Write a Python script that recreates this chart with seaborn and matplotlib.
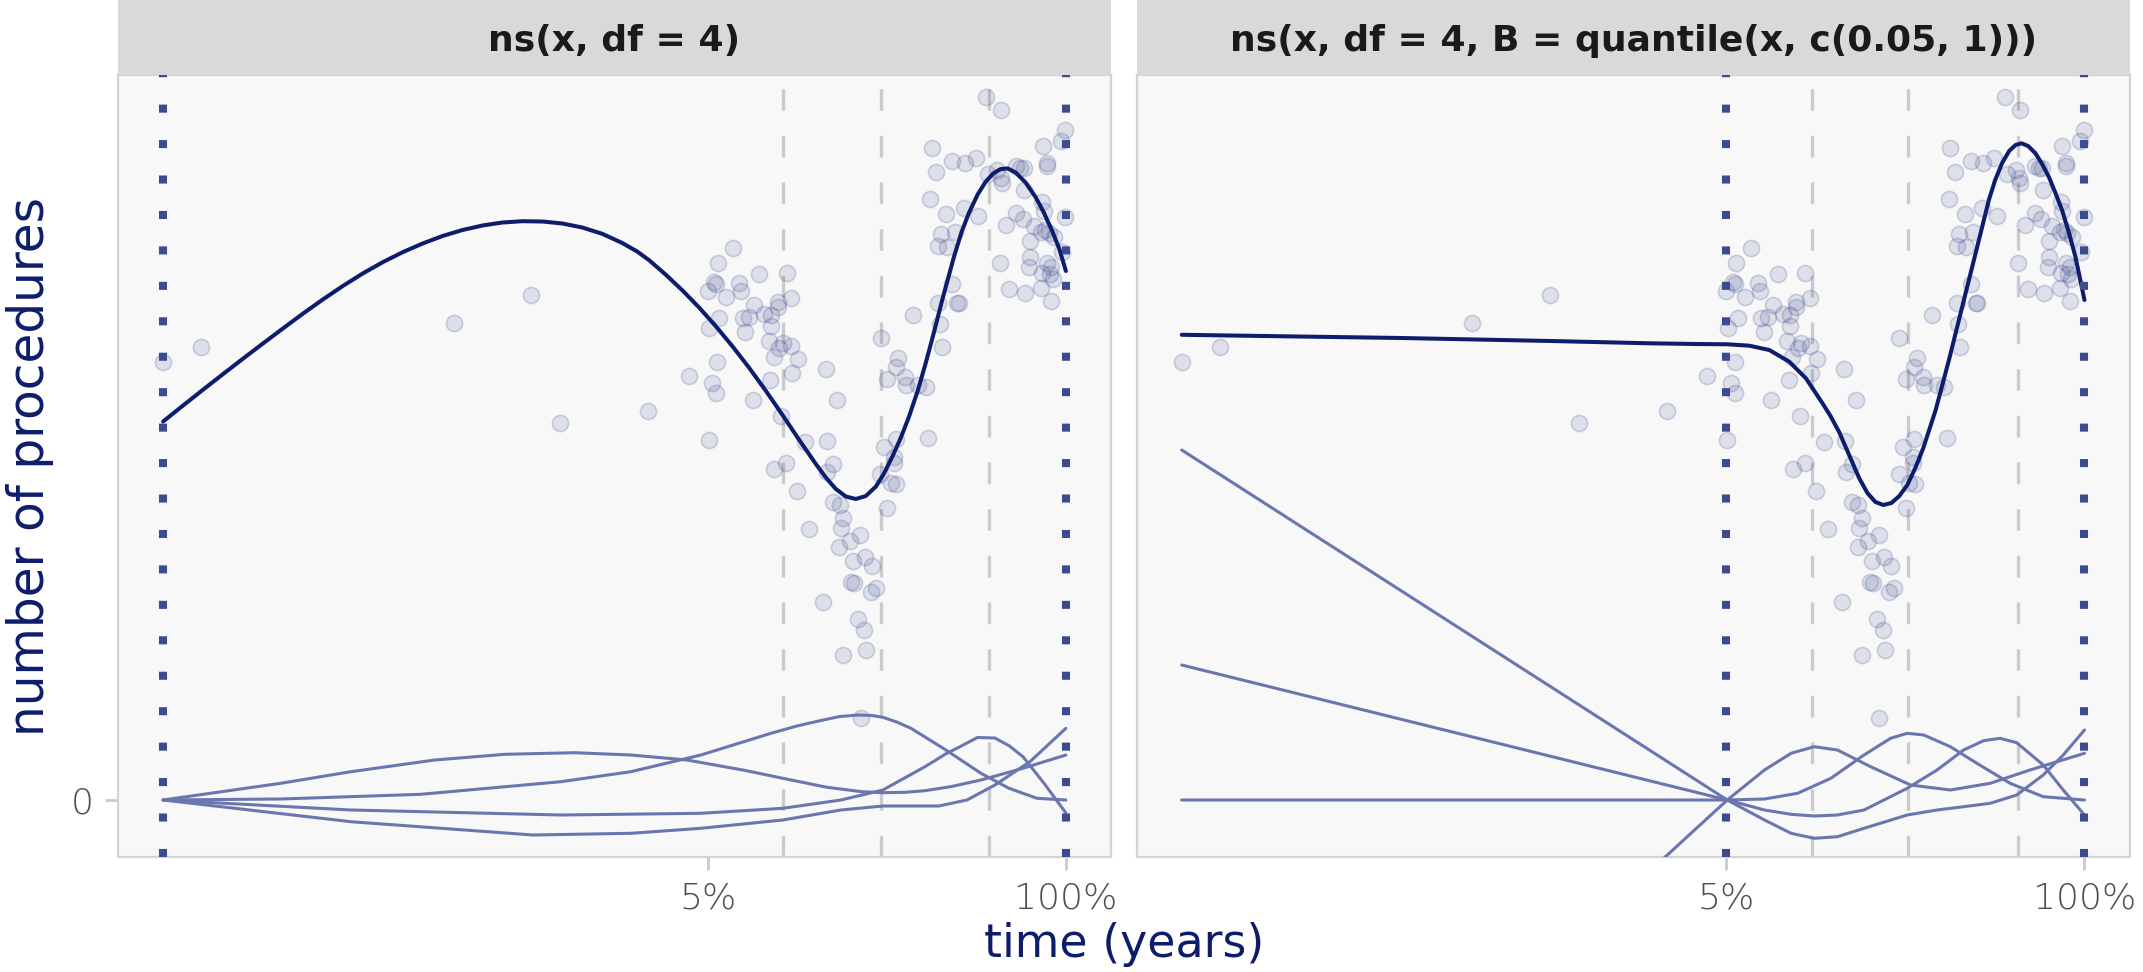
import matplotlib
matplotlib.use("Agg")
import matplotlib.pyplot as plt
import seaborn as sns
import pandas as pd

# ---------------- data (time in years, procedures in model units) ----------------
time_years = [
    0.00, 0.38, 2.913, 3.688, 3.978, 4.859, 5.266,
    5.706, 5.556, 5.973, 6.246, 5.523, 5.456, 5.54, 5.773, 5.79, 5.64, 5.923, 6.156,
    6.29, 6.023, 5.573, 5.806, 5.873, 6.09, 6.156, 5.473, 5.833, 6.09, 6.066, 6.206,
    6.29, 6.173, 6.116, 6.366, 5.546, 5.50, 5.54, 6.08, 6.30, 6.64, 5.906, 6.756,
    6.19, 5.466, 6.433, 6.65, 6.123, 6.24, 6.713, 6.656,
    6.356, 6.713, 6.78, 6.813, 6.79, 6.473, 6.983, 6.88, 6.773, 7.033, 6.913, 7.106,
    6.893, 6.923, 7.09, 7.14, 6.613, 6.966, 7.023, 7.046, 6.816, 6.99,
    7.19, 7.513, 7.78, 7.80, 7.366, 7.34, 7.256, 7.43, 7.44, 7.566, 7.64, 7.666,
    7.223, 7.34, 7.323, 7.323, 7.183, 7.29, 7.346, 7.256,
    8.246, 8.396, 9.04, 9.00, 8.816, 7.70, 7.906, 8.033, 8.14, 7.746, 8.266, 8.356,
    8.39, 8.40, 8.55, 8.623, 8.59, 8.856, 8.856, 8.63, 7.683, 8.806, 8.823, 7.846,
    8.023, 8.166, 9.04, 8.55, 8.613, 8.446, 8.723, 8.80, 8.873, 8.923, 8.84, 7.79,
    7.933, 7.763, 7.856, 8.69, 9.006, 8.69, 8.68, 8.38, 8.856, 8.90, 8.806, 8.883,
    8.913, 7.906, 8.48, 8.64, 8.80, 8.90, 7.763, 7.973, 7.956,
]
procedures = [
    4.375, 4.525, 4.773, 5.052, 3.77, 3.892, 4.243,
    5.517, 5.373, 5.26, 5.273, 5.183, 5.093, 5.16, 5.173, 5.093, 5.033, 4.95, 4.983,
    5.023, 4.86, 4.817, 4.817, 4.833, 4.85, 4.927, 4.717, 4.683, 4.74, 4.593, 4.573,
    4.54, 4.517, 4.433, 4.407, 4.383, 4.167, 4.067, 4.20, 4.267, 4.31, 4.0, 4.0,
    3.84, 3.60, 3.583, 3.59, 3.307, 3.373, 3.36, 3.283,
    3.09, 2.983, 2.95, 2.817, 2.717, 2.71, 2.65, 2.593, 2.533, 2.433, 2.393, 2.34,
    2.183, 2.173, 2.083, 2.117, 1.977, 1.807, 1.70, 1.50, 1.45, 0.817,
    4.617, 4.85, 4.76, 4.533, 4.423, 4.333, 4.21, 4.233, 4.15, 4.15, 4.127, 3.617,
    3.533, 3.607, 3.433, 3.367, 3.257, 3.173, 3.157, 2.917,
    7.033, 6.90, 6.70, 6.593, 6.543, 6.517, 6.39, 6.373, 6.423, 6.277, 6.26, 6.30,
    6.217, 6.173, 6.34, 6.317, 6.317, 6.367, 6.34, 6.10, 6.013, 5.983, 5.89, 5.86,
    5.923, 5.84, 5.833, 5.873, 5.807, 5.75, 5.74, 5.683, 5.667, 5.633, 5.70, 5.66,
    5.683, 5.543, 5.533, 5.593, 5.483, 5.433, 5.333, 5.367, 5.373, 5.333, 5.273, 5.257,
    5.21, 5.157, 5.107, 5.067, 5.117, 4.993, 4.973, 4.967, 4.973,
]

panel_titles = ["ns(x, df = 4)", "ns(x, df = 4, B = quantile(x, c(0.05, 1)))"]
tick_positions = [5.458, 9.045]
tick_labels = ["5%", "100%"]
boundary_knots = [[0.0, 9.045], [5.458, 9.045]]
inner_knots = [[6.209, 7.191, 8.271], [6.317, 7.275, 8.380]]

# fitted curve, panel 1
fit1_x = [0.0, 0.2, 0.4, 0.6, 0.8, 1.0, 1.2, 1.4, 1.6, 1.8, 2.0, 2.2, 2.4, 2.6, 2.8,
          3.0, 3.2, 3.4, 3.6, 3.8, 4.0, 4.2, 4.4, 4.6, 4.75, 4.873, 5.04, 5.206, 5.37,
          5.54, 5.71, 5.873, 6.04, 6.206, 6.37, 6.54, 6.64, 6.74, 6.84, 6.94, 7.04,
          7.14, 7.22, 7.306, 7.39, 7.473, 7.56, 7.64, 7.72, 7.806, 7.923, 8.0, 8.073,
          8.16, 8.24, 8.315, 8.39, 8.46, 8.54, 8.64, 8.74, 8.82, 8.906, 8.98, 9.045]
fit1_y = [3.785, 3.945, 4.103, 4.259, 4.413, 4.565, 4.715, 4.863, 5.005, 5.14,
          5.265, 5.378, 5.478, 5.565, 5.64, 5.70, 5.745, 5.775, 5.788, 5.785, 5.765,
          5.725, 5.662, 5.57, 5.485, 5.395, 5.25, 5.093, 4.925, 4.735, 4.53, 4.32,
          4.09, 3.85, 3.605, 3.36, 3.225, 3.11, 3.035, 3.01, 3.04, 3.133, 3.26,
          3.433, 3.62, 3.833, 4.09, 4.367, 4.665, 5.0, 5.43, 5.68, 5.87, 6.053,
          6.181, 6.264, 6.309, 6.316, 6.276, 6.176, 6.031, 5.883, 5.694, 5.509, 5.29]
# basis functions, panel 1
b1a_x = [0.0, 1.179, 1.881, 2.722, 3.424, 4.125, 4.687, 5.248, 5.809, 6.209, 6.651,
         7.0, 7.212, 7.433, 7.633, 7.9, 8.194, 8.615, 9.045]
b1a_y = [0.0, 0.167, 0.283, 0.40, 0.457, 0.473, 0.45, 0.40, 0.30, 0.217, 0.127,
         0.083, 0.073, 0.077, 0.093, 0.135, 0.20, 0.317, 0.45]
b1b_x = [0.0, 1.179, 2.582, 3.985, 4.687, 5.388, 6.09, 6.35, 6.581, 6.78, 6.967,
         7.1, 7.212, 7.35, 7.493, 7.843, 8.194, 8.475, 8.755, 9.045]
b1b_y = [0.0, 0.01, 0.057, 0.183, 0.283, 0.45, 0.667, 0.74, 0.793, 0.835, 0.85,
         0.845, 0.827, 0.78, 0.717, 0.50, 0.267, 0.117, 0.017, 0.0]
b1c_x = [0.0, 1.881, 3.985, 5.388, 6.209, 6.791, 7.212, 7.633, 7.84, 7.984, 8.159,
         8.334, 8.48, 8.615, 8.826, 9.045]
b1c_y = [0.0, -0.10, -0.15, -0.133, -0.083, 0.0, 0.10, 0.333, 0.46, 0.533, 0.625,
         0.62, 0.54, 0.433, 0.167, -0.13]
b1d_x = [0.0, 1.881, 3.705, 4.687, 5.388, 6.209, 6.791, 7.212, 7.773, 8.054, 8.334,
         8.685, 9.045]
b1d_y = [0.0, -0.217, -0.35, -0.333, -0.283, -0.20, -0.10, -0.06, -0.06, 0.0, 0.15,
         0.383, 0.717]

# fitted curve, panel 2
fit2_x = [0.0, 2.2, 3.7, 4.687, 5.154, 5.47, 5.687, 5.887, 6.087, 6.254, 6.42, 6.5,
          6.587, 6.687, 6.787, 6.87, 6.95, 7.03, 7.11, 7.19, 7.27, 7.35, 7.43, 7.554,
          7.687, 7.82, 7.954, 8.087, 8.15, 8.22, 8.29, 8.354, 8.414, 8.48, 8.554,
          8.62, 8.687, 8.75, 8.82, 8.89, 8.954, 9.045]
fit2_y = [4.652, 4.62, 4.59, 4.567, 4.56, 4.557, 4.543, 4.50, 4.383, 4.217, 3.967,
          3.84, 3.68, 3.45, 3.22, 3.07, 2.98, 2.95, 2.97, 3.04, 3.15, 3.32, 3.52,
          3.90, 4.40, 4.933, 5.467, 6.0, 6.2, 6.37, 6.49, 6.55, 6.567, 6.54, 6.467,
          6.36, 6.233, 6.08, 5.90, 5.67, 5.433, 5.0]
# basis functions, panel 2
b2a_x = [4.80, 5.466, 5.839, 6.105, 6.337, 6.57, 6.903, 7.302, 7.701, 8.10, 8.499, 9.045]
b2a_y = [-0.61, 0.0, 0.30, 0.467, 0.533, 0.50, 0.333, 0.15, 0.10, 0.167, 0.30, 0.467]
b2b_x = [0.0, 5.466, 5.839, 6.171, 6.504, 6.836, 7.102, 7.269, 7.435, 7.701, 7.967,
         8.30, 8.632, 9.045]
b2b_y = [0.0, 0.0, 0.01, 0.067, 0.217, 0.45, 0.617, 0.667, 0.65, 0.533, 0.367,
         0.167, 0.033, 0.0]
b2c_x = [0.0, 5.466, 5.839, 6.105, 6.337, 6.57, 6.836, 7.269, 7.568, 7.834, 8.034,
         8.20, 8.366, 8.632, 8.832, 9.045]
b2c_y = [1.35, 0.0, -0.10, -0.143, -0.16, -0.15, -0.10, 0.117, 0.30, 0.50, 0.593,
         0.617, 0.573, 0.35, 0.10, -0.15]
b2d_x = [0.0, 5.466, 5.839, 6.105, 6.337, 6.57, 6.836, 7.269, 7.568, 7.834, 8.10,
         8.366, 8.632, 8.832, 9.045]
b2d_y = [3.50, 0.0, -0.20, -0.333, -0.383, -0.367, -0.283, -0.15, -0.10, -0.067,
         -0.033, 0.05, 0.25, 0.45, 0.70]

fits = [(fit1_x, fit1_y), (fit2_x, fit2_y)]
bases = [[(b1a_x, b1a_y), (b1b_x, b1b_y), (b1c_x, b1c_y), (b1d_x, b1d_y)],
         [(b2a_x, b2a_y), (b2b_x, b2b_y), (b2c_x, b2c_y), (b2d_x, b2d_y)]]

# ---------------- style ----------------
sns.set_theme(style="white")
plt.rcParams['font.family'] = ['DejaVu Sans']

NAVY = "#0D1D6B"
BASIS = "#6B76AE"
DOT = "#3C4A8F"
PT = (60 / 255, 74 / 255, 143 / 255)
GRID = "#CBCBCB"
BORDER = "#D3D3D3"
TICKTXT = "#4F4F4F"

W, H = 2143, 972
fig = plt.figure(figsize=(W / 100, H / 100), dpi=100)
fig.patch.set_facecolor("white")

panel_left_px = [118, 1136.6]
panel_w_px = 993
top_px, bottom_px, strip_px = 75, 856.7, 75

df = pd.DataFrame({"time": time_years, "procedures": procedures})

for i in range(2):
    l = panel_left_px[i] / W
    ax = fig.add_axes([l, 1 - bottom_px / H, panel_w_px / W, (bottom_px - top_px) / H])
    ax.set_facecolor("#F8F8F8")

    for k in inner_knots[i]:
        ax.axvline(k, color=GRID, lw=2.4, dashes=(6.5, 7.5), zorder=1)

    sns.scatterplot(data=df, x="time", y="procedures", ax=ax, s=135,
                    color=PT + (0.14,), edgecolor=PT + (0.22,), linewidth=1.2,
                    zorder=2, legend=False)

    for (bx, by) in bases[i]:
        sns.lineplot(x=bx, y=by, ax=ax, color=BASIS, lw=2.2, sort=False,
                     estimator=None, zorder=3)
    fx, fy = fits[i]
    sns.lineplot(x=fx, y=fy, ax=ax, color=NAVY, lw=2.9, sort=False,
                 estimator=None, zorder=4)

    for b in boundary_knots[i]:
        ax.axvline(b, color=DOT, lw=5.8, dashes=(1, 3.4), dash_capstyle="butt",
                   zorder=5)

    ax.set_xlim(-0.452, 9.497)
    ax.set_ylim(-0.567, 7.25)
    ax.set_xlabel("")
    ax.set_ylabel("")
    ax.set_xticks(tick_positions)
    ax.set_xticklabels(tick_labels, fontsize=26, color=TICKTXT, fontweight=200)
    if i == 0:
        ax.set_yticks([0])
        ax.set_yticklabels(["0"], fontsize=26, color=TICKTXT, fontweight=200)
    else:
        ax.set_yticks([])
    ax.tick_params(axis="both", length=9.5, width=2, color=GRID, pad=8,
                   bottom=True, left=(i == 0))
    for s in ax.spines.values():
        s.set_color(BORDER)
        s.set_linewidth(1.6)

    sax = fig.add_axes([l, 1 - strip_px / H, panel_w_px / W, strip_px / H])
    sax.set_facecolor("#D9D9D9")
    sax.set_xticks([])
    sax.set_yticks([])
    for s in sax.spines.values():
        s.set_visible(False)
    sax.text(0.5, 0.45, panel_titles[i], ha="center", va="center", fontsize=26,
             fontweight="bold", color="#1A1A1A", transform=sax.transAxes)

fig.text(30 / W, 1 - 466 / H, "number of procedures", rotation=90, ha="center",
         va="center", fontsize=35, color=NAVY)
fig.text(1124 / W, 1 - 944 / H, "time (years)", ha="center", va="center",
         fontsize=33, color=NAVY)

fig.savefig("out.png", dpi=100)
